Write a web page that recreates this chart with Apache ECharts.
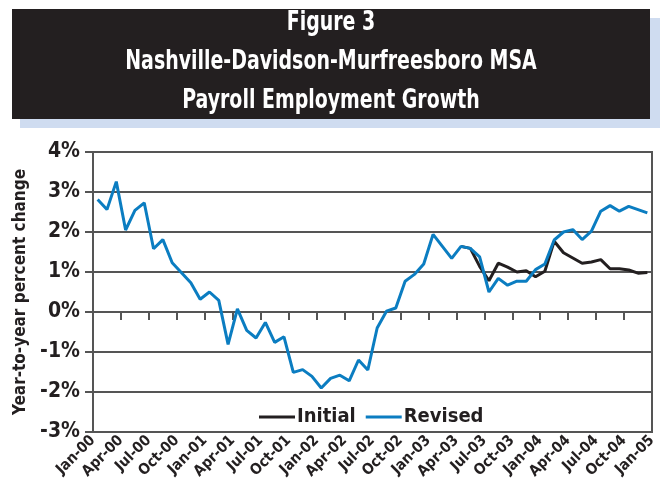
<!DOCTYPE html>
<html>
<head>
<meta charset="utf-8">
<script src="https://cdn.jsdelivr.net/npm/echarts@6/dist/echarts.min.js"></script>
<style>
html,body{margin:0;padding:0;background:#fff;}
#chart{width:660px;height:495px;}
</style>
</head>
<body>
<div id="chart"></div>
<script>
// Title lines
var titleLines = ['Figure 3', 'Nashville-Davidson-Murfreesboro MSA', 'Payroll Employment Growth'];

// Tick labels on the x axis (every 3 months, Jan-00 .. Jan-05)
var tickLabels = ['Jan-00','Apr-00','Jul-00','Oct-00','Jan-01','Apr-01','Jul-01','Oct-01',
  'Jan-02','Apr-02','Jul-02','Oct-02','Jan-03','Apr-03','Jul-03','Oct-03',
  'Jan-04','Apr-04','Jul-04','Oct-04','Jan-05'];

// Monthly year-to-year percent change, Jan-00 .. Dec-04 (60 months)
var revised = [
  2.81, 2.56, 3.26, 2.05, 2.54, 2.73, 1.58, 1.81, 1.23, 0.98, 0.73, 0.32,
  0.50, 0.29, -0.81, 0.08, -0.46, -0.65, -0.26, -0.76, -0.62, -1.51, -1.44, -1.61,
  -1.90, -1.66, -1.58, -1.72, -1.20, -1.45, -0.40, 0.02, 0.10, 0.77, 0.94, 1.20,
  1.94, 1.64, 1.34, 1.64, 1.59, 1.38, 0.50, 0.84, 0.67, 0.77, 0.77, 1.06,
  1.20, 1.80, 2.00, 2.06, 1.81, 2.02, 2.52, 2.66, 2.52, 2.64, 2.56, 2.48
];
var initial = [
  null, null, null, null, null, null, null, null, null, null, null, null,
  null, null, null, null, null, null, null, null, null, null, null, null,
  null, null, null, null, null, null, null, null, null, null, null, null,
  null, null, null, 1.64, 1.59, 1.14, 0.78, 1.22, 1.12, 1.00, 1.03, 0.88,
  1.02, 1.77, 1.48, 1.35, 1.22, 1.25, 1.31, 1.08, 1.08, 1.05, 0.97, 0.99
];

var FONT = '"DejaVu Sans Condensed", "DejaVu Sans", sans-serif';
var INK = '#231f20';

function toPoints(arr) {
  return arr.map(function (v, i) { return [i + 0.5, v]; });
}

var titleY = [23, 62, 101];
var titleGraphics = titleLines.map(function (t, i) {
  return {
    type: 'text', x: 331, y: titleY[i], scaleX: 0.78, scaleY: 1, z: 5,
    style: {
      text: t, x: 0, y: 0, align: 'center', verticalAlign: 'middle',
      fill: '#ffffff', font: 'bold 27px ' + FONT
    }
  };
});

var chart = echarts.init(document.getElementById('chart'), null, {renderer: 'canvas'});
chart.setOption({
  backgroundColor: '#ffffff',
  animation: false,
  graphic: [
    {type: 'rect', shape: {x: 20, y: 18, width: 640, height: 110}, style: {fill: '#cfdcf0'}, z: 0},
    {type: 'rect', shape: {x: 12, y: 9, width: 638, height: 110}, style: {fill: '#231f20'}, z: 1}
  ].concat(titleGraphics),
  legend: {
    left: 254, top: 402,
    itemWidth: 36, itemHeight: 3, itemGap: 10,
    icon: 'rect',
    data: ['Initial', 'Revised'],
    textStyle: {color: INK, fontFamily: FONT, fontWeight: 'bold', fontSize: 20, padding: [0, 0, 0, -3]}
  },
  grid: {
    left: 93, right: 8, top: 152, bottom: 63,
    show: true, borderColor: '#555555', borderWidth: 2, backgroundColor: 'transparent'
  },
  xAxis: {
    type: 'value', min: 0, max: 60, interval: 3,
    axisLine: {show: true, lineStyle: {color: '#555555', width: 2}},
    axisTick: {show: true, length: 8, lineStyle: {color: '#555555', width: 2}},
    splitLine: {show: false},
    axisLabel: {
      rotate: 45, margin: 6, color: INK, fontFamily: FONT, fontWeight: 'bold', fontSize: 15,
      formatter: function (v) { return tickLabels[Math.round(v / 3)]; }
    }
  },
  yAxis: {
    type: 'value', min: -3, max: 4, interval: 1,
    name: 'Year-to-year percent change', nameLocation: 'middle', nameGap: 63,
    nameTextStyle: {color: INK, fontFamily: FONT, fontWeight: 'bold', fontSize: 17},
    axisLine: {show: true, lineStyle: {color: '#555555', width: 2}},
    axisTick: {show: true, length: 8, lineStyle: {color: '#555555', width: 2}},
    splitLine: {show: true, lineStyle: {color: '#555555', width: 2}},
    axisLabel: {
      margin: 13, color: INK, fontFamily: FONT, fontWeight: 'bold', fontSize: 21,
      formatter: function (v) { return v + '%'; }
    }
  },
  series: [
    {
      name: 'Initial', type: 'line', data: toPoints(initial), showSymbol: false, symbol: 'none',
      connectNulls: false, color: INK, lineStyle: {color: INK, width: 3}, z: 2
    },
    {
      name: 'Revised', type: 'line', data: toPoints(revised), showSymbol: false, symbol: 'none',
      color: '#0b7dc1', lineStyle: {color: '#0b7dc1', width: 3}, z: 3
    }
  ]
});
</script>
</body>
</html>
